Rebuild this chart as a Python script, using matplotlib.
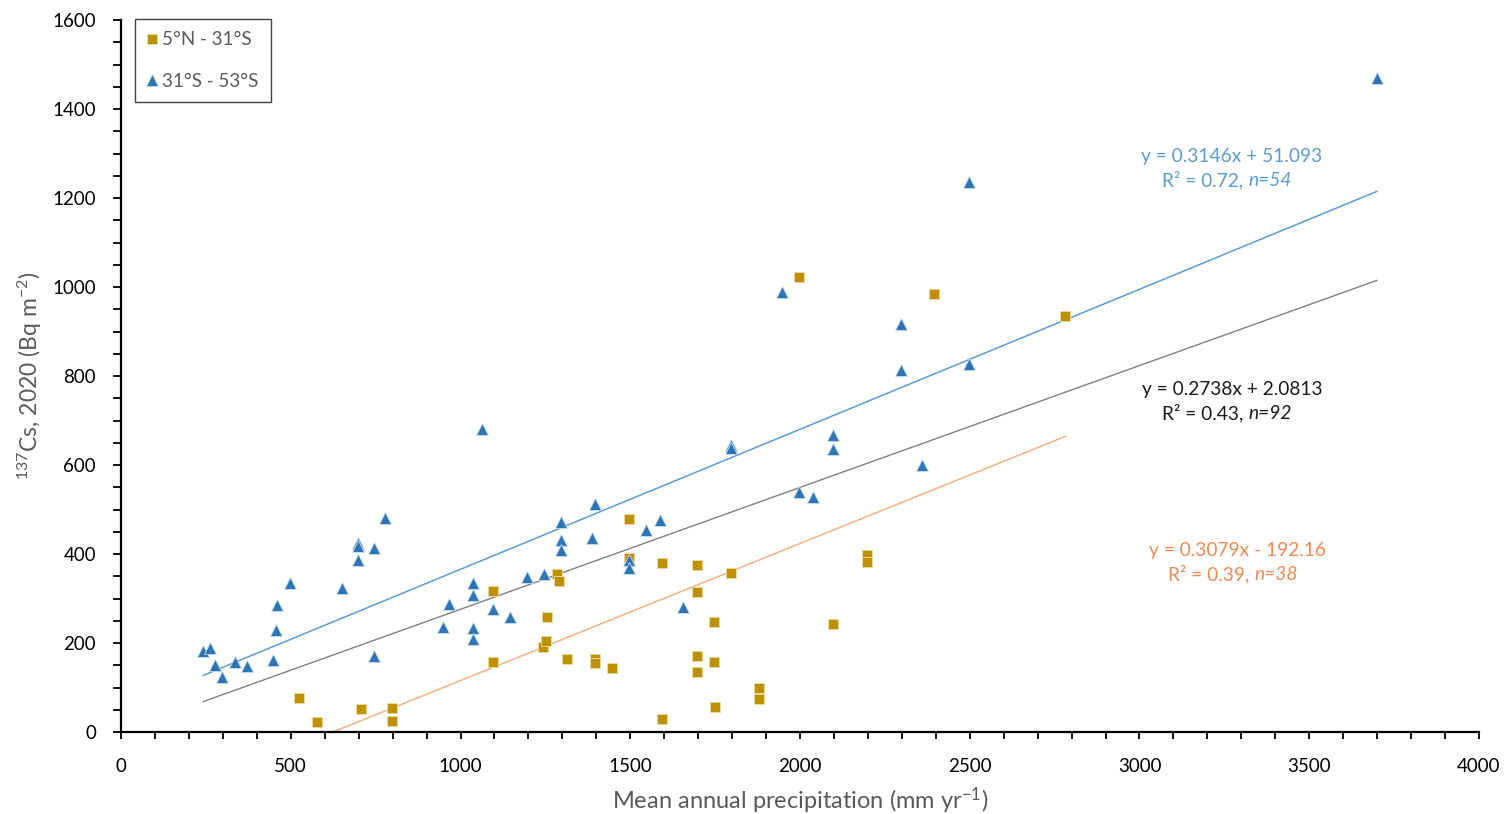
import matplotlib
matplotlib.use("Agg")
import matplotlib.pyplot as plt
from matplotlib.ticker import MultipleLocator
import numpy as np

plt.rcParams['font.family'] = ['Lato', 'DejaVu Sans']
plt.rcParams['mathtext.fontset'] = 'custom'
plt.rcParams['mathtext.rm'] = 'Lato'
plt.rcParams['mathtext.it'] = 'Lato:italic'

# 5°N - 31°S (squares)
north_x = [524, 576, 707, 797, 797, 1095, 1095, 1244, 1252, 1254, 1285, 1291,
           1315, 1396, 1396, 1447, 1497, 1497, 1595, 1595, 1698, 1698, 1698,
           1698, 1746, 1746, 1751, 1797, 1879, 1879, 1996, 2098, 2196, 2196,
           2395, 2781]
north_y = [76, 22, 52, 53, 25, 317, 158, 190, 205, 259, 355, 340,
           163, 165, 154, 143, 478, 390, 380, 29, 375, 315, 171,
           136, 248, 158, 56, 358, 100, 74, 1023, 243, 398, 383,
           984, 935]

# 31°S - 53°S (triangles)
south_x = [242, 262, 277, 296, 336, 370, 447, 457, 460, 498, 651, 697, 697,
           697, 746, 746, 777, 947, 967, 1036, 1036, 1036, 1036, 1064, 1097,
           1146, 1197, 1246, 1296, 1296, 1296, 1387, 1396, 1497, 1497, 1546,
           1588, 1656, 1797, 1797, 1948, 1997, 2037, 2098, 2098, 2297, 2297,
           2358, 2499, 2499, 3699]
south_y = [183, 188, 151, 124, 157, 148, 162, 229, 285, 334, 324, 424, 418,
           386, 414, 171, 482, 237, 287, 334, 308, 233, 208, 682, 276,
           259, 349, 354, 471, 431, 409, 437, 512, 386, 368, 454,
           476, 282, 645, 638, 989, 540, 529, 667, 635, 916, 813,
           600, 1237, 828, 1470]

# trend lines: slope, intercept
fit_south = (0.3146, 51.093)
fit_all = (0.2738, 2.0813)
fit_north = (0.3079, -192.16)

fig = plt.figure(figsize=(15.07, 8.14), dpi=100)
ax = fig.add_axes([0.0803, 0.1007, 0.9011, 0.8747])

c_sq = '#BF9000'
c_tri = '#2E75B6'

xs = np.array([min(south_x), max(south_x)])
ax.plot(xs, fit_south[0] * xs + fit_south[1], color='#5B9BD5', lw=1.1, zorder=2)
xa = np.array([min(south_x), max(south_x)])
ax.plot(xa, fit_all[0] * xa + fit_all[1], color='#808080', lw=1.0, zorder=2)
xn = np.array([min(north_x), max(north_x)])
ax.plot(xn, fit_north[0] * xn + fit_north[1], color='#F4B183', lw=1.1, zorder=2)

ax.plot(north_x, north_y, 's', ms=7.5, color=c_sq, mec='#EAD9A0', mew=0.7,
        label='5°N - 31°S', zorder=3)
ax.plot(south_x, south_y, '^', ms=9, color=c_tri, mec='#C9DDF0', mew=0.6,
        label='31°S - 53°S', zorder=3)

ax.set_xlim(0, 4000)
ax.set_ylim(0, 1600)
ax.xaxis.set_major_locator(MultipleLocator(500))
ax.xaxis.set_minor_locator(MultipleLocator(100))
ax.yaxis.set_major_locator(MultipleLocator(200))
ax.yaxis.set_minor_locator(MultipleLocator(50))

for s in ['top', 'right']:
    ax.spines[s].set_visible(False)
for s in ['left', 'bottom']:
    ax.spines[s].set_linewidth(1.6)
    ax.spines[s].set_color('black')

ax.tick_params(axis='x', which='both', length=5, width=1.3, pad=14, labelsize=13.5)
ax.tick_params(axis='y', which='both', length=6, width=1.3, pad=12, labelsize=13.5)

ax.set_xlabel('Mean annual precipitation (mm yr$^{-1}$)', fontsize=17,
              color='#595959', labelpad=7)
ax.set_ylabel('$^{137}$Cs, 2020 (Bq m$^{-2}$)', fontsize=16.5,
              color='#595959', labelpad=6)

leg = ax.legend(loc='upper left', bbox_to_anchor=(0.0105, 1.0015), fontsize=13.5,
                frameon=True, fancybox=False, edgecolor='#404040',
                framealpha=1, labelspacing=1.3, handlelength=0.5,
                handletextpad=0.3, borderpad=0.65, borderaxespad=0,
                labelcolor='#595959')
leg.get_frame().set_linewidth(1.0)


def eq_label(x, y, line1, r2, n, color):
    t1 = ax.text(x, y, line1, color=color, fontsize=13.8, ha='center', va='bottom')
    t2 = ax.annotate(r2, xy=(0.5, 0), xycoords=t1, xytext=(12, -4),
                     textcoords='offset points', color=color, fontsize=13.8,
                     ha='right', va='top')
    ax.annotate(n, xy=(1, 0), xycoords=t2, color=color, fontsize=13.8,
                style='italic', ha='left', va='bottom')


eq_label(3272, 1274, 'y = 0.3146x + 51.093', 'R² = 0.72, ', 'n=54', '#5B9BD5')
eq_label(3272, 750, 'y = 0.2738x + 2.0813', 'R² = 0.43, ', 'n=92', '#1A1A1A')
eq_label(3290, 389, 'y = 0.3079x - 192.16', 'R² = 0.39, ', 'n=38', '#F08A50')

fig.savefig('out.png', dpi=100)
